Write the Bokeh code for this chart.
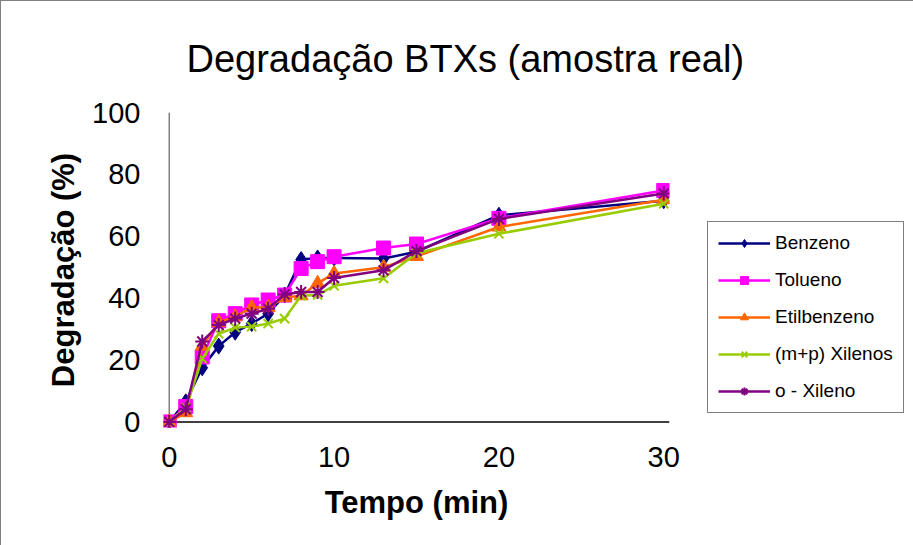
from bokeh.plotting import figure
from bokeh.models import Range1d, Span, Legend, LegendItem, FixedTicker
from bokeh.embed import file_html
from bokeh.resources import INLINE

# ---- data ----
tempo = [0, 1, 2, 3, 4, 5, 6, 7, 8, 9, 10, 13, 15, 20, 30]
benzeno = [0, 6.5, 17.5, 24.5, 29, 31.8, 35, 41, 52.5, 53, 53, 52.8, 55, 66.8, 71.5]
tolueno = [0, 5, 21, 32.7, 35, 37.8, 39.4, 41, 49.6, 51.8, 53.4, 56.2, 57.5, 65.8, 74.8]
etilbenzeno = [0, 3, 24.5, 32.2, 34, 37, 37, 40.2, 40.8, 44.8, 48, 50, 53.5, 63, 71.8]
mp_xilenos = [0, 4.5, 20.5, 28.5, 30.5, 30.8, 31.8, 33.4, 40.8, 41, 44, 46.4, 54.5, 60.8, 70.5]
o_xileno = [0, 4.1, 26, 31.3, 33.4, 35, 36.6, 41.2, 42, 42, 46.5, 49, 55.2, 65.6, 73.8]

series_names = ["Benzeno", "Tolueno", "Etilbenzeno", "(m+p) Xilenos", "o - Xileno"]
series_values = [benzeno, tolueno, etilbenzeno, mp_xilenos, o_xileno]
series_colors = ["#000080", "#FF00FF", "#FF6600", "#99CC00", "#800080"]
series_markers = ["diamond", "square", "triangle", "x", "asterisk"]
marker_sizes = [16, 14, 14, 13, 14]

x_ticks = [0, 10, 20, 30]
y_ticks = [0, 20, 40, 60, 80, 100]

FONT = "Liberation Sans"

p = figure(
    frame_width=506, frame_height=315,
    min_border_left=162, min_border_right=245,
    min_border_top=111, min_border_bottom=119,
    x_range=Range1d(-0.35, 30.35), y_range=Range1d(-1.8, 100),
    output_backend="svg", toolbar_location=None,
    background_fill_color="white", border_fill_color="white",
)
p.styles = {"border-left": "1px solid #808080", "border-top": "1px solid #808080"}

# title
p.title.text = "Degradação BTXs  (amostra real)"
p.title.text_font = FONT
p.title.text_font_size = "38px"
p.title.text_font_style = "normal"
p.title.text_color = "black"
p.title.align = "left"
p.title.vertical_align = "middle"
p.title.offset = 23
p.title.standoff = 64

p.grid.visible = False
p.outline_line_color = None

# axes
for ax in (p.xaxis[0], p.yaxis[0]):
    ax.axis_line_color = None
    ax.major_tick_line_color = None
    ax.minor_tick_line_color = None
    ax.major_tick_out = 0
    ax.major_tick_in = 0
    ax.major_label_text_font = FONT
    ax.major_label_text_font_size = "29px"
    ax.major_label_text_color = "black"
    ax.axis_label_text_font = FONT
    ax.axis_label_text_font_size = "31px"
    ax.axis_label_text_font_style = "bold"
    ax.axis_label_text_color = "black"

p.xaxis.ticker = FixedTicker(ticks=x_ticks)
p.yaxis.ticker = FixedTicker(ticks=y_ticks)
p.xaxis.axis_label = "Tempo (min)"
p.yaxis.axis_label = "Degradação (%)"
p.xaxis.major_label_standoff = 19
p.yaxis.major_label_standoff = 23
p.xaxis.axis_label_standoff = 15
p.yaxis.axis_label_standoff = 8

# axis lines at 0
p.add_layout(Span(location=0, dimension="height", line_color="#808080", line_width=1.5, level="underlay"))
p.add_layout(Span(location=0, dimension="width", line_color="black", line_width=1.5, level="underlay"))

items = []
for name, vals, col, mk, ms in zip(series_names, series_values, series_colors, series_markers, marker_sizes):
    lr = p.line(tempo, vals, line_color=col, line_width=2.5)
    if mk in ("x", "asterisk"):
        sr = p.scatter(tempo, vals, marker=mk, size=ms, line_color=col, line_width=2)
    else:
        sr = p.scatter(tempo, vals, marker=mk, size=ms, fill_color=col, line_color=col)
    items.append(LegendItem(label=name, renderers=[lr, sr]))

legend = Legend(
    items=items, location=(38, 14),
    label_text_font=FONT, label_text_font_size="19px", label_text_color="black",
    glyph_width=52, glyph_height=20, label_height=20, spacing=15,
    padding=10, margin=0, label_standoff=5,
    border_line_color="black", border_line_width=1,
    background_fill_color="white", background_fill_alpha=1.0,
)
p.add_layout(legend, "right")

open("out.html", "w").write(file_html(p, INLINE))
